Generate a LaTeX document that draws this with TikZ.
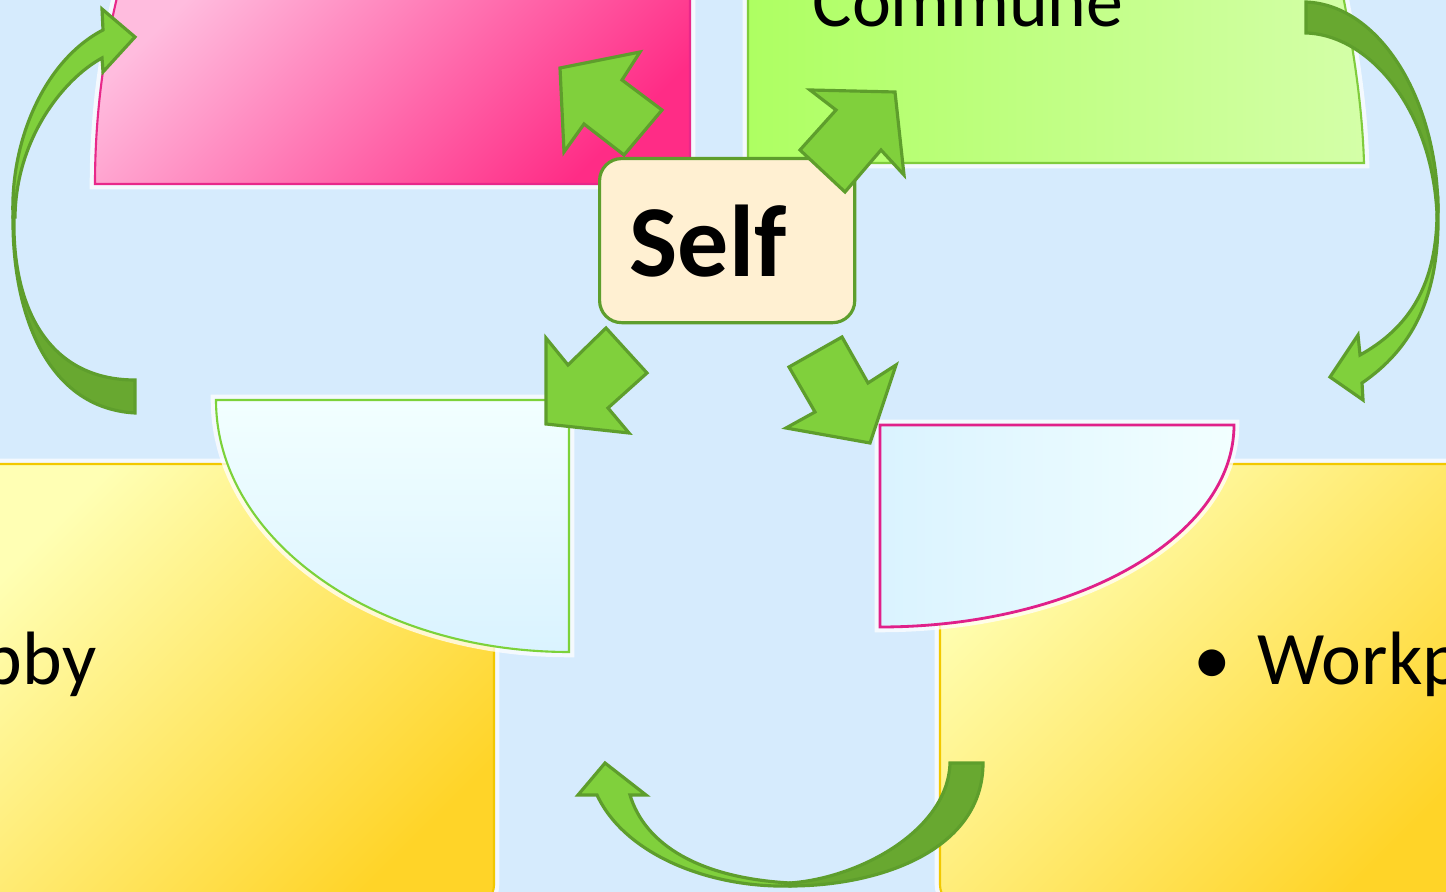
\documentclass[tikz,border=0pt]{standalone}
\usepackage{fontspec}
\setmainfont{Carlito}
\definecolor{bg}{HTML}{D6EBFD}
\definecolor{arrL}{HTML}{80D03C}
\definecolor{arrD}{HTML}{68A830}
\definecolor{arrE}{HTML}{5E9E2C}
\definecolor{pinkA}{HTML}{FFBCDE}
\definecolor{pinkB}{HTML}{FF2C86}
\definecolor{pinkE}{HTML}{E8288A}
\definecolor{greenA}{HTML}{AEFF62}
\definecolor{greenB}{HTML}{D4FFA8}
\definecolor{greenE}{HTML}{80CC3C}
\definecolor{ylA}{HTML}{FFFFB4}
\definecolor{ylB}{HTML}{FFD428}
\definecolor{ylE}{HTML}{F2C800}
\definecolor{cyA}{HTML}{F2FFFF}
\definecolor{cyB}{HTML}{DAF3FF}
\definecolor{selfc}{HTML}{FFF0D2}
\definecolor{cyGE}{HTML}{7CD23A}
\definecolor{cyPE}{HTML}{E0208A}
\begin{document}
\begin{tikzpicture}[x=0.01cm,y=-0.01cm,
  glow/.style={preaction={draw=white,line width=3pt,draw opacity=0.75}},
  blockarrow/.style={fill=arrL,draw=arrE,line width=0.9pt,line join=miter},
  backband/.style={fill=arrD,draw=arrE,line width=0.9pt,line join=miter},
  frontband/.style={fill=arrL,draw=arrE,line width=0.9pt,line join=miter},
  selfbox/.style={draw=arrE,fill=selfc,line width=0.9pt,rounded corners=0.22cm},
  lbl/.style={inner sep=0pt,text=black}]

\useasboundingbox (0,0) rectangle (1446,892);
\clip (0,0) rectangle (1446,892);
\fill[bg] (0,0) rectangle (1446,892);

% pink panel (top left)
\path[glow, draw=pinkE, line width=0.6pt, top color=pinkA, bottom color=pinkB, shading angle=45]
  (95,184) -- (690,184) -- (690,-30) -- (124,-30) .. controls (105,40) and (95,110) .. (95,184) -- cycle;

% green panel (top right)
\path[glow, draw=greenE, line width=0.6pt, left color=greenA, right color=greenB]
  (748,163) -- (1364,163) .. controls (1362,100) and (1352,40) .. (1338,-30) -- (748,-30) -- cycle;
\node[lbl, anchor=base west, font=\fontsize{21}{25}\selectfont] (commune) at (812,27) {Commune};

% yellow panels (bottom)
\path[glow, draw=ylE, line width=0.6pt, top color=ylA, bottom color=ylB, shading angle=45, rounded corners=0.2cm]
  (-30,464) rectangle (494,905);
\path[glow, draw=ylE, line width=0.6pt, top color=ylA, bottom color=ylB, shading angle=45, rounded corners=0.2cm]
  (940,464) rectangle (1480,905);
\node[lbl, anchor=base east, font=\fontsize{21.5}{25}\selectfont] (hobby) at (97,685) {Hobby};
\node[lbl, anchor=base west, font=\fontsize{21.5}{25}\selectfont] (work) at (1257,685) {\llap{•\hspace{0.27cm}}Workp};

% light cyan quarter shapes
\path[glow, draw=cyGE, line width=0.6pt, top color=cyA, bottom color=cyB]
  (216,400) -- (569,400) -- (569,652) .. controls (374,652) and (216,539) .. (216,400) -- cycle;
\path[glow, draw=cyPE, line width=0.8pt, left color=cyB, right color=cyA]
  (880,425) -- (1234,425) .. controls (1234,537) and (1075,627) .. (880,627) -- cycle;

% central node
\node[selfbox, anchor=north west, text width=1.95cm, inner xsep=0.3cm, inner ysep=0pt,
      minimum height=1.64cm, align=left, font=\fontsize{29}{31}\selectfont\bfseries] (self) at (598,157) {Self};

% block arrows from Self
\path[blockarrow] (560,68) -- (640,52) -- (622,80) -- (662,110) -- (624,155) -- (584,124) -- (564,152) -- cycle;
\path[blockarrow] (895,92) -- (904,175) -- (881,150) -- (845,192) -- (800,150) -- (836,110) -- (810,90) -- cycle;
\path[blockarrow] (546,424) -- (546,338) -- (568,365) -- (606,328) -- (647,373) -- (608,408) -- (629,433) -- cycle;
\path[blockarrow] (870,443) -- (896,365) -- (868,383) -- (842,337) -- (789,367) -- (815,412) -- (786,428) -- cycle;

% left curved arrow
\path[backband] (13,217) .. controls (12,310) and (45,408) .. (135,413) -- (135,380)
  .. controls (50,380) and (12,310) .. (14,217) -- cycle;
\path[frontband] (13,217) .. controls (10,140) and (45,60) .. (103,30) -- (102,9) -- (135,37) -- (103,72) -- (102,58)
  .. controls (62,80) and (16,140) .. (15,217) -- cycle;

% right curved arrow
\path[backband] (1306,2) .. controls (1380,5) and (1438,100) .. (1438,212) -- (1437,214)
  .. controls (1432,110) and (1370,35) .. (1306,33) -- cycle;
\path[frontband] (1438,210) .. controls (1440,300) and (1410,350) .. (1362,383) -- (1363,400) -- (1330,377) -- (1358,335) -- (1360,355)
  .. controls (1405,330) and (1436,290) .. (1437,215) -- cycle;

% bottom curved arrow
\path[backband] (983,763) .. controls (983,850) and (880,886) .. (790,886) -- (790,883)
  .. controls (860,878) and (948,830) .. (950,763) -- cycle;
\path[frontband] (790,886) .. controls (710,888) and (625,855) .. (597,795) -- (578,795) -- (605,763) -- (646,795) -- (630,795)
  .. controls (645,845) and (700,878) .. (790,883) -- cycle;
\end{tikzpicture}
\end{document}
